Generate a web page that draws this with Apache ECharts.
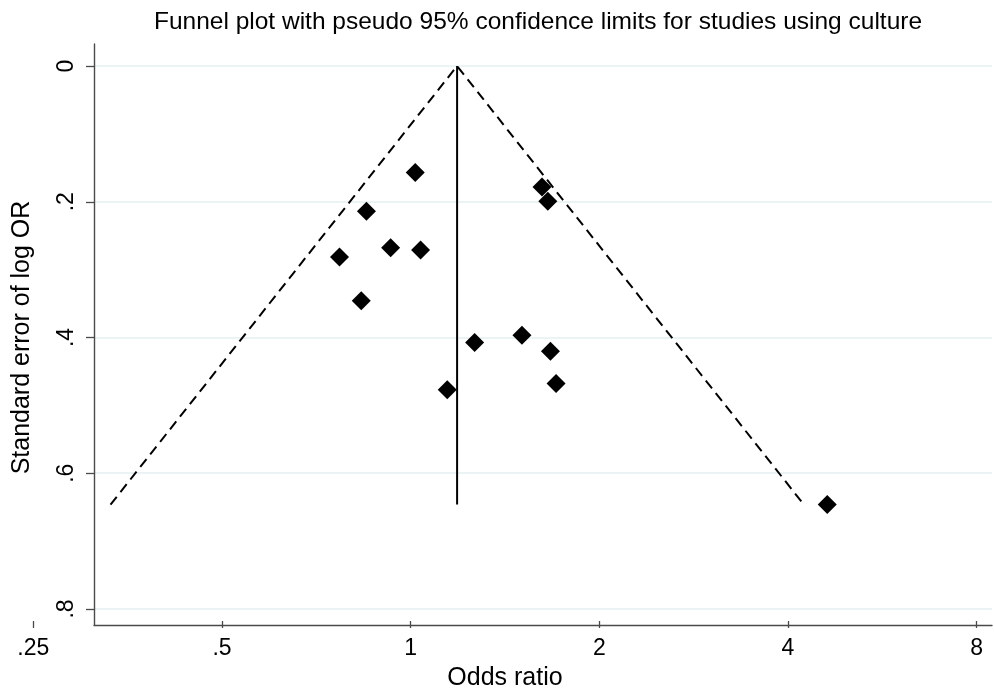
<!DOCTYPE html>
<html>
<head>
<meta charset="utf-8">
<script src="https://cdn.jsdelivr.net/npm/echarts@6/dist/echarts.min.js"></script>
<style>html,body{margin:0;padding:0;background:#fff;}#c{width:994px;height:696px;}</style>
</head>
<body>
<div id="c"></div>
<script>
// Study estimates
const oddsRatio = [1.017, 0.850, 0.770, 0.929, 1.037, 0.834, 1.620, 1.655, 1.265, 1.505, 1.671, 1.706, 1.144, 4.62];
const stdErr    = [0.158, 0.2155, 0.2834, 0.2697, 0.2731, 0.3483, 0.1796, 0.2007, 0.4103, 0.3996, 0.4232, 0.4713, 0.4807, 0.651];
// Pooled estimate and pseudo 95% limits
const pooledLine = [[1.186, 0], [1.186, 0.651]];
const funnelLimits = [[0.332, 0.651], [1.186, 0], [4.24, 0.651]];
// Tick labels
const xTickValues = [0.25, 0.5, 1, 2, 4, 8];
const xTickLabels = ['.25', '.5', '1', '2', '4', '8'];
const yTickValues = [0, 0.2, 0.4, 0.6, 0.8];
const yTickLabels = ['0', '.2', '.4', '.6', '.8'];

const FONT = 'Liberation Sans';
const AXC = '#4a4a4a';
const points = oddsRatio.map((v, i) => [v, stdErr[i]]);

function lookup(vals, labs, v) {
  for (let i = 0; i < vals.length; i++) if (Math.abs(vals[i] - v) < 1e-6) return labs[i];
  return '';
}

const chart = echarts.init(document.getElementById('c'), null, {renderer: 'canvas'});
chart.setOption({
  animation: false,
  backgroundColor: '#fff',
  title: {
    text: 'Funnel plot with pseudo 95% confidence limits for studies using culture',
    left: 533, top: 5, textAlign: 'center',
    textStyle: {fontFamily: FONT, fontSize: 24.5, fontWeight: 'normal', color: '#000'}
  },
  grid: [
    {left: 94, right: 2, top: 44, bottom: 71, containLabel: false},
    {left: 94, right: 2, top: 66, bottom: 87, containLabel: false},
    {left: 33.3, right: 17.3, top: 66, bottom: 87, containLabel: false}
  ],
  xAxis: [
    {gridIndex: 0, type: 'value', min: 0, max: 1, axisLine: {show: true, onZero: false, lineStyle: {color: AXC, width: 1.4}},
     axisTick: {show: false}, axisLabel: {show: false}, splitLine: {show: false}},
    {gridIndex: 1, type: 'value', min: 0, max: 1, show: false},
    {gridIndex: 2, type: 'log', logBase: 2, min: 0.25, max: 8, position: 'bottom', offset: 16,
     name: 'Odds ratio', nameLocation: 'middle', nameGap: 45,
     nameTextStyle: {fontFamily: FONT, fontSize: 25, color: '#000'},
     axisLine: {show: false, onZero: false}, splitLine: {show: false},
     axisTick: {show: true, length: 7, lineStyle: {color: AXC, width: 1.3}},
     axisLabel: {fontFamily: FONT, fontSize: 23, color: '#000', margin: 16,
       formatter: v => lookup(xTickValues, xTickLabels, v)}}
  ],
  yAxis: [
    {gridIndex: 0, type: 'value', min: 0, max: 1, axisLine: {show: true, onZero: false, lineStyle: {color: AXC, width: 1.4}},
     axisTick: {show: false}, axisLabel: {show: false}, splitLine: {show: false}},
    {gridIndex: 1, type: 'value', min: 0, max: 0.8, interval: 0.2, inverse: true,
     name: 'Standard error of log OR', nameLocation: 'middle', nameGap: 59, nameRotate: 90,
     nameTextStyle: {fontFamily: FONT, fontSize: 25, color: '#000'},
     axisLine: {show: false, onZero: false},
     axisTick: {show: true, length: 8, lineStyle: {color: AXC, width: 1.3}},
     splitLine: {show: true, lineStyle: {color: '#e4eff1', width: 1.5}},
     axisLabel: {fontFamily: FONT, fontSize: 23, color: '#000', rotate: 90, margin: 16,
       formatter: v => lookup(yTickValues, yTickLabels, v)}},
    {gridIndex: 2, type: 'value', min: 0, max: 0.8, inverse: true, show: false}
  ],
  series: [
    {type: 'line', xAxisIndex: 2, yAxisIndex: 2, data: funnelLimits, symbol: 'none',
     lineStyle: {color: '#000', width: 2, type: [10, 6]}, z: 3},
    {type: 'line', xAxisIndex: 2, yAxisIndex: 2, data: pooledLine, symbol: 'none',
     lineStyle: {color: '#000', width: 2}, z: 3},
    {type: 'scatter', xAxisIndex: 2, yAxisIndex: 2, data: points, symbol: 'diamond', symbolSize: 19,
     itemStyle: {color: '#000', opacity: 1}, z: 4}
  ]
});
</script>
</body>
</html>
